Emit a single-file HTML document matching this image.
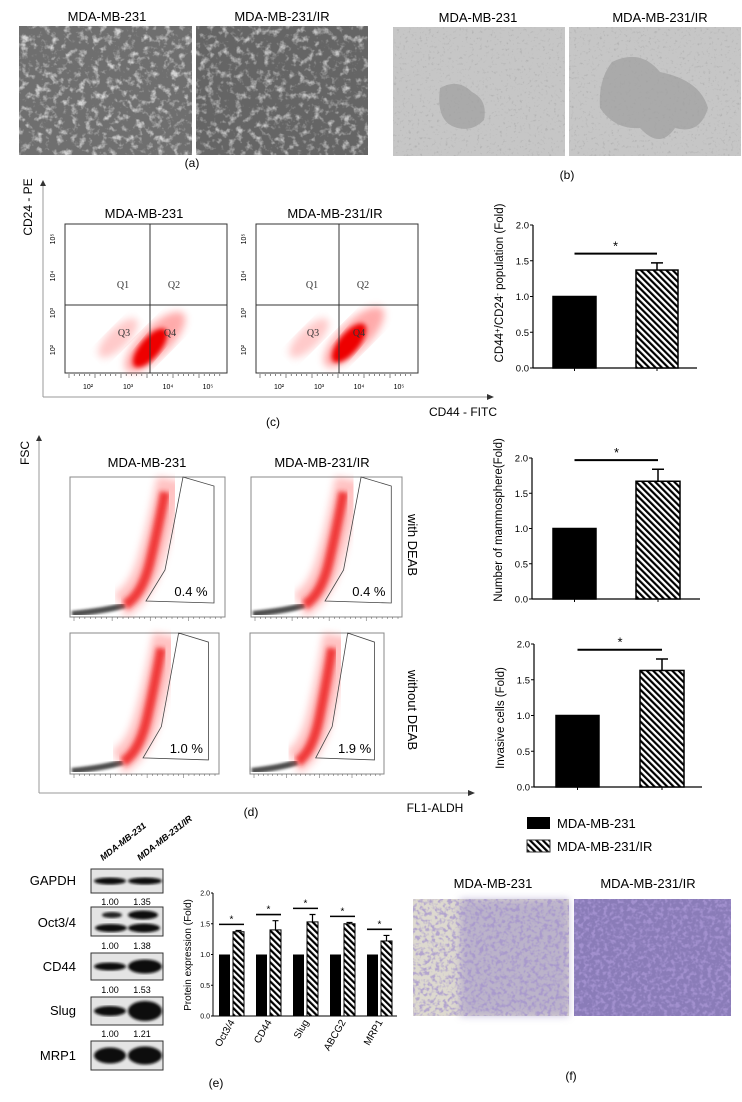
<!DOCTYPE html>
<html><head><meta charset="utf-8"><style>
html,body{margin:0;padding:0;background:#fff;}
svg{display:block;font-family:"Liberation Sans",sans-serif;}
</style></head><body>
<svg id="fig" width="742" height="1102" viewBox="0 0 742 1102" xmlns="http://www.w3.org/2000/svg">
<defs>
<pattern id="hatch" width="4.5" height="4.5" patternUnits="userSpaceOnUse" patternTransform="rotate(-45)"><rect width="4.5" height="4.5" fill="#fff"/><rect width="2.2" height="4.5" fill="#000"/></pattern>
<filter id="texA" x="0" y="0" width="1" height="1"><feTurbulence type="fractalNoise" baseFrequency="0.14" numOctaves="3" seed="3"/><feColorMatrix type="matrix" values="0 0 0 0 0.85  0 0 0 0 0.85  0 0 0 0 0.85  0 0 0 -3 1.5"/></filter>
<filter id="texB" x="0" y="0" width="1" height="1"><feTurbulence type="fractalNoise" baseFrequency="0.35" numOctaves="2" seed="7"/><feColorMatrix type="matrix" values="0 0 0 0 0.35  0 0 0 0 0.35  0 0 0 0 0.35  0 0 0 -4 1.6"/></filter>
<filter id="texF" x="0" y="0" width="1" height="1"><feTurbulence type="fractalNoise" baseFrequency="0.25" numOctaves="2" seed="11"/><feColorMatrix type="matrix" values="0 0 0 0 0.36  0 0 0 0 0.28  0 0 0 0 0.62  0 0 0 -4 2.2"/></filter>
<filter id="blur2"><feGaussianBlur stdDeviation="2.5"/></filter>
<filter id="blur4"><feGaussianBlur stdDeviation="4"/></filter>
<filter id="blurB"><feGaussianBlur stdDeviation="1.2"/></filter>
<clipPath id="clipB1"><rect x="393" y="27" width="172" height="129"/></clipPath>
</defs>

<!-- Panel a -->
<g font-size="13">
<text x="107" y="21" text-anchor="middle">MDA-MB-231</text>
<text x="282" y="21" text-anchor="middle">MDA-MB-231/IR</text>
<rect x="19" y="26" width="173" height="129" fill="#6f6f6f"/>
<rect x="19" y="26" width="173" height="129" filter="url(#texA)" opacity="0.8"/>
<rect x="196" y="26" width="172" height="129" fill="#656565"/>
<rect x="196" y="26" width="172" height="129" filter="url(#texA)" opacity="0.7"/>
<text x="192" y="167" text-anchor="middle" font-size="12">(a)</text>
</g>
<!-- Panel b -->
<g font-size="13">
<text x="478" y="22" text-anchor="middle">MDA-MB-231</text>
<text x="660" y="22" text-anchor="middle">MDA-MB-231/IR</text>
<rect x="393" y="27" width="172" height="129" fill="#c6c6c6"/>
<path d="M440,88 Q458,78 472,92 Q488,100 484,120 Q470,134 452,126 Q436,118 440,88Z" fill="#aaa"/>
<rect x="569" y="27" width="172" height="129" fill="#c6c6c6"/>
<path d="M612,62 Q640,48 660,72 Q700,80 708,108 Q700,135 675,128 Q660,150 640,128 Q615,130 600,108 Q598,80 612,62Z" fill="#aaa"/>
<rect x="393" y="27" width="172" height="129" filter="url(#texB)" opacity="0.5"/>
<rect x="569" y="27" width="172" height="129" filter="url(#texB)" opacity="0.5"/>
<text x="567" y="179" text-anchor="middle" font-size="12">(b)</text>
</g>

<!-- Panel c flow -->
<g font-size="12">
<line x1="43" y1="182" x2="43" y2="397" stroke="#999"/>
<line x1="43" y1="397" x2="491" y2="397" stroke="#999"/>
<path d="M40,186 L43,180 L46,186Z M487,394 L494,397 L487,400Z" fill="#333"/>
<text transform="translate(32,207) rotate(-90)" text-anchor="middle" font-size="12">CD24 - PE</text>
<text x="463" y="416" text-anchor="middle">CD44 - FITC</text>
<text x="273" y="426" text-anchor="middle">(c)</text>
<text x="144" y="218" text-anchor="middle" font-size="13">MDA-MB-231</text>
<text x="335" y="218" text-anchor="middle" font-size="13">MDA-MB-231/IR</text>
<g id="flowc"></g>
</g>

<!-- Panel d flow -->
<g font-size="12">
<line x1="39" y1="437" x2="39" y2="793" stroke="#999"/>
<line x1="39" y1="793" x2="472" y2="793" stroke="#999"/>
<path d="M36,441 L39,435 L42,441Z M468,790 L475,793 L468,796Z" fill="#333"/>
<text transform="translate(29,453) rotate(-90)" text-anchor="middle">FSC</text>
<text x="435" y="812" text-anchor="middle">FL1-ALDH</text>
<text x="251" y="816" text-anchor="middle">(d)</text>
<text x="147" y="467" text-anchor="middle" font-size="13">MDA-MB-231</text>
<text x="322" y="467" text-anchor="middle" font-size="13">MDA-MB-231/IR</text>
<text transform="translate(408,545) rotate(90)" text-anchor="middle" font-size="13">with DEAB</text>
<text transform="translate(408,710) rotate(90)" text-anchor="middle" font-size="13">without DEAB</text>
<g id="flowd"></g>
</g>

<g id="charts"></g>

<!-- Legend -->
<g font-size="13">
<rect x="527" y="817" width="23" height="12" fill="#000"/>
<text x="557" y="828">MDA-MB-231</text>
<rect x="527" y="840" width="23" height="12" fill="url(#hatch)" stroke="#333"/>
<text x="557" y="851">MDA-MB-231/IR</text>
</g>

<!-- Panel e blots -->
<g font-size="13">
<text transform="translate(103,861) rotate(-38)" font-size="9" font-weight="bold" font-style="italic">MDA-MB-231</text>
<text transform="translate(140,861) rotate(-38)" font-size="9" font-weight="bold" font-style="italic">MDA-MB-231/IR</text>
<g id="blots"></g>
<text x="216" y="1087" text-anchor="middle" font-size="12">(e)</text>
</g>

<!-- Panel f -->
<g font-size="13">
<text x="493" y="888" text-anchor="middle">MDA-MB-231</text>
<text x="648" y="888" text-anchor="middle">MDA-MB-231/IR</text>
<rect x="413" y="899" width="156" height="117" fill="#ddd9cf"/>
<rect x="460" y="899" width="109" height="117" fill="#a69ac8" opacity="0.6" filter="url(#blur4)"/>
<rect x="413" y="899" width="156" height="117" filter="url(#texF)" opacity="0.7"/>
<rect x="574" y="899" width="157" height="117" fill="#8a7cb8"/>
<rect x="574" y="899" width="157" height="117" filter="url(#texF)"/>
<text x="571" y="1080" text-anchor="middle" font-size="12">(f)</text>
</g>
</svg>
<script>
// ---- chart data ----
const groupsC = ["MDA-MB-231", "MDA-MB-231/IR"];
const valuesC = [1.0, 1.37];
const errorsC = [0, 1.47];
const valuesD = [1.0, 1.67];
const errorsD = [0, 1.84];
const valuesInv = [1.0, 1.63];
const errorsInv = [0, 1.79];
const ticksY = [0, 0.5, 1.0, 1.5, 2.0];
const tickLabelsY = ["0.0", "0.5", "1.0", "1.5", "2.0"];
const proteins = ["Oct3/4", "CD44", "Slug", "ABCG2", "MRP1"];
const protCtrl = [1.0, 1.0, 1.0, 1.0, 1.0];
const protIR = [1.37, 1.40, 1.53, 1.50, 1.22];
const protErr = [1.39, 1.55, 1.65, 1.52, 1.31];
const blotNames = ["GAPDH", "Oct3/4", "CD44", "Slug", "MRP1"];
const blotCtrl = ["1.00", "1.00", "1.00", "1.00"];
const blotIR = ["1.35", "1.38", "1.53", "1.21"];

const NS = "http://www.w3.org/2000/svg";
function mk(tag, attrs, parent) {
  const e = document.createElementNS(NS, tag);
  for (const k in attrs) e.setAttribute(k, attrs[k]);
  parent.appendChild(e);
  return e;
}
const charts = document.getElementById('charts');

function twoBarChart(name, ax, y0, y2, xEnd, bars, vals, errs, label, labelCy) {
  const g = mk('g', {}, charts);
  
  
  const yS = v => y0 - (y0 - y2) * v / 2;
  const yl = mk('line', {x1: ax, y1: yS(2), x2: ax, y2: y0, stroke: '#000', 'stroke-width': 1.2}, g);
  
  
  const xl = mk('line', {x1: ax, y1: y0, x2: xEnd, y2: y0, stroke: '#000', 'stroke-width': 1.2}, g);
  
  
  ticksY.forEach((t, i) => {
    mk('line', {x1: ax - 3, y1: yS(t), x2: ax, y2: yS(t), stroke: '#000'}, g);
    const tx = mk('text', {x: ax - 4, y: yS(t) + 3.5, 'text-anchor': 'end', 'font-size': 9.5}, g);
    tx.textContent = tickLabelsY[i];
    
    
  });
  vals.forEach((v, i) => {
    const [x1, x2] = bars[i];
    const r = mk('rect', {x: x1, y: yS(v), width: x2 - x1, height: y0 - yS(v), fill: i ? 'url(#hatch)' : '#000', stroke: '#000', 'stroke-width': 1.5}, g);
    
    
    mk('line', {x1: (x1 + x2) / 2, y1: y0, x2: (x1 + x2) / 2, y2: y0 + 3, stroke: '#000'}, g);
    if (errs[i] > v) {
      const cx = (x1 + x2) / 2;
      const eb = mk('path', {d: `M${cx},${yS(v)}V${yS(errs[i])}M${cx - 6},${yS(errs[i])}H${cx + 6}`, stroke: '#000', 'stroke-width': 1.5, fill: 'none'}, g);
      
      
    }
  });
  const top = Math.max(...errs, ...vals);
  const sy = yS(top + 0.13);
  const sl = mk('line', {x1: (bars[0][0] + bars[0][1]) / 2, y1: sy, x2: (bars[1][0] + bars[1][1]) / 2, y2: sy, stroke: '#000', 'stroke-width': 2}, g);
  
  
  const st = mk('text', {x: ((bars[0][0] + bars[1][1]) / 2), y: sy - 3, 'text-anchor': 'middle', 'font-size': 13}, g);
  st.textContent = '*';
  
  
  const lb = mk('text', {transform: `translate(${ax - 30},${labelCy}) rotate(-90)`, 'text-anchor': 'middle', 'font-size': 11.5}, g);
  lb.innerHTML = label;
  
  
}
twoBarChart('chart-cd44-cd24', 533, 368, 225, 697, [[553, 596], [636, 678]], valuesC, errorsC,
  'CD44<tspan dy="-3" font-size="8">+</tspan><tspan dy="3">/CD24</tspan><tspan dy="-3" font-size="8">-</tspan><tspan dy="3"> population (Fold)</tspan>', 283);
twoBarChart('chart-mammosphere', 532, 599, 458, 700, [[553, 596], [636, 680]], valuesD, errorsD, 'Number of mammosphere(Fold)', 520);
twoBarChart('chart-invasive', 534, 787, 644, 702, [[556, 599], [640, 684]], valuesInv, errorsInv, 'Invasive cells (Fold)', 718);

// protein chart
(function () {
  const g = mk('g', {}, charts);
  
  
  const ax = 213, y0 = 1016, y2 = 893, xEnd = 397;
  const yS = v => y0 - (y0 - y2) * v / 2;
  const gx = i => 219 + i * 37;
  const yl = mk('line', {x1: ax, y1: y2, x2: ax, y2: y0, stroke: '#000'}, g);
  
  
  const xl = mk('line', {x1: ax, y1: y0, x2: xEnd, y2: y0, stroke: '#000'}, g);
  
  
  ticksY.forEach((t, i) => {
    mk('line', {x1: ax - 2, y1: yS(t), x2: ax, y2: yS(t), stroke: '#000'}, g);
    const tx = mk('text', {x: ax - 3, y: yS(t) + 2.5, 'text-anchor': 'end', 'font-size': 7}, g);
    tx.textContent = tickLabelsY[i];
    
    
  });
  proteins.forEach((p, i) => {
    const x = gx(i);
    const b1 = mk('rect', {x: x, y: yS(protCtrl[i]), width: 11, height: y0 - yS(protCtrl[i]), fill: '#000'}, g);
    
    
    const b2 = mk('rect', {x: x + 14, y: yS(protIR[i]), width: 11, height: y0 - yS(protIR[i]), fill: 'url(#hatch)', stroke: '#000', 'stroke-width': 1}, g);
    
    
    const cx = x + 19.5;
    mk('path', {d: `M${cx},${yS(protIR[i])}V${yS(protErr[i])}M${cx - 3},${yS(protErr[i])}H${cx + 3}`, stroke: '#000', 'stroke-width': 1.2, fill: 'none'}, g);
    const sy = yS(protErr[i] + 0.1);
    mk('line', {x1: x, y1: sy, x2: x + 25, y2: sy, stroke: '#000', 'stroke-width': 1.6}, g);
    const st = mk('text', {x: x + 12.5, y: sy - 2, 'text-anchor': 'middle', 'font-size': 10}, g);
    st.textContent = '*';
    const lb = mk('text', {transform: `translate(${x + 16},${y0 + 6}) rotate(-60)`, 'text-anchor': 'end', 'font-size': 10}, g);
    lb.textContent = p;
    
    
  });
  const t = mk('text', {transform: `translate(191,955) rotate(-90)`, 'text-anchor': 'middle', 'font-size': 10}, g);
  t.textContent = 'Protein expression (Fold)';
  
  
})();

// blots
(function () {
  const g = document.getElementById('blots');
  const boxes = [[869, 893], [907, 936], [953, 980], [997, 1025], [1041, 1070]];
  const labY = [885, 927, 971, 1015, 1060];
  const numY = [905, 949, 993, 1037];
  const bandH = [[3.5, 3.5], [4, 5], [4, 7], [5, 10], [8, 9]];
  blotNames.forEach((n, i) => {
    const [a, b] = boxes[i];
    const r = mk('rect', {x: 91, y: a, width: 72, height: b - a, fill: '#e4e4e4', stroke: '#333', 'stroke-width': 1}, g);
    
    
    const mid = (a + b) / 2;
    if (n === 'Oct3/4') {
      mk('ellipse', {cx: 112, cy: a + 8, rx: 10, ry: 3, fill: '#222', filter: 'url(#blurB)'}, g);
      mk('ellipse', {cx: 143, cy: a + 8, rx: 15, ry: 4.5, fill: '#111', filter: 'url(#blurB)'}, g);
      mk('ellipse', {cx: 111, cy: b - 8, rx: 16, ry: 4, fill: '#111', filter: 'url(#blurB)'}, g);
      mk('ellipse', {cx: 144, cy: b - 8, rx: 16, ry: 4.5, fill: '#111', filter: 'url(#blurB)'}, g);
    } else {
      mk('ellipse', {cx: 110, cy: mid, rx: 16, ry: bandH[i][0], fill: '#111', filter: 'url(#blurB)'}, g);
      mk('ellipse', {cx: 145, cy: mid, rx: 17, ry: bandH[i][1], fill: '#111', filter: 'url(#blurB)'}, g);
    }
    const t = mk('text', {x: 76, y: labY[i], 'text-anchor': 'end', 'font-size': 13}, g);
    t.textContent = n;
    
    
  });
  blotCtrl.forEach((v, i) => {
    const t1 = mk('text', {x: 110, y: numY[i], 'text-anchor': 'middle', 'font-size': 9}, g);
    t1.textContent = v;
    
    
    const t2 = mk('text', {x: 142, y: numY[i], 'text-anchor': 'middle', 'font-size': 9}, g);
    t2.textContent = blotIR[i];
    
    
  });
})();

// flow plots c
(function () {
  const g = document.getElementById('flowc');
  [[65, 150, 'left'], [256, 339, 'right']].forEach(([x0, qx, side], k) => {
    const w = 162, y0 = 224, y1 = 373, qy = 305;
    const r = mk('rect', {x: x0, y: y0, width: w, height: y1 - y0, fill: '#fff', stroke: '#333'}, g);
    
    
    const off = x0 - 65;
    mk('ellipse', {cx: 118 + off, cy: 338, rx: 26, ry: 10, fill: '#f88', opacity: 0.45, transform: `rotate(-45 ${118 + off} 338)`, filter: 'url(#blur4)'}, g);
    mk('ellipse', {cx: 155 + off + k * 8, cy: 342 - k * 5, rx: 40, ry: 15, fill: '#f44', opacity: 0.45, transform: `rotate(-45 ${155 + off + k * 8} ${342 - k * 5})`, filter: 'url(#blur4)'}, g);
    mk('ellipse', {cx: 150 + off + k * 8, cy: 348 - k * 5, rx: 24, ry: 10, fill: '#e00', transform: `rotate(-50 ${150 + off + k * 8} ${348 - k * 5})`, filter: 'url(#blur2)'}, g);
    mk('line', {x1: qx, y1: y0, x2: qx, y2: y1, stroke: '#333'}, g);
    mk('line', {x1: x0, y1: qy, x2: x0 + w, y2: qy, stroke: '#333'}, g);
    [['Q1', qx - 27, 288], ['Q2', qx + 24, 288], ['Q3', qx - 26, 336], ['Q4', qx + 20, 336]].forEach(([t, x, y]) => {
      const e = mk('text', {x: x, y: y, 'text-anchor': 'middle', 'font-size': 10, 'font-family': 'Liberation Serif, serif', fill: '#333'}, g);
      e.textContent = t;
    });
    ['10²', '10³', '10⁴', '10⁵'].forEach((t, i) => {
      const e = mk('text', {x: x0 + 23 + i * 40, y: 389, 'text-anchor': 'middle', 'font-size': 7}, g);
      e.textContent = t;
      const e2 = mk('text', {transform: `translate(${x0 - 10},${350 - i * 37}) rotate(-90)`, 'text-anchor': 'middle', 'font-size': 7}, g);
      e2.textContent = t;
    });
    for (let i = 0; i < 30; i++) mk('line', {x1: x0 + 4 + i * 5.2, y1: y1 + 1, x2: x0 + 4 + i * 5.2, y2: y1 + (i % 5 ? 3 : 5), stroke: '#333', 'stroke-width': 0.6}, g);
  });
})();

// flow plots d
(function () {
  const g = document.getElementById('flowd');
  const plots = [[70, 477, 155, 140, '0.4 %', 'top-left'], [251, 477, 151, 140, '0.4 %', 'top-right'],
                 [70, 633, 149, 141, '1.0 %', 'bottom-left'], [250, 633, 134, 141, '1.9 %', 'bottom-right']];
  plots.forEach(([x0, y0, w, h, pct, name]) => {
    const r = mk('rect', {x: x0, y: y0, width: w, height: h, fill: '#fff', stroke: '#888'}, g);
    
    
    const X = v => x0 + v * w / 155, Y = v => y0 + v * h / 140;
    mk('path', {d: `M${X(2)},${Y(137)} Q${X(40)},${Y(133)} ${X(55)},${Y(128)}`, stroke: '#222', 'stroke-width': 6, fill: 'none', filter: 'url(#blurB)', opacity: 0.8}, g);
    mk('path', {d: `M${X(50)},${Y(128)} Q${X(70)},${Y(118)} ${X(80)},${Y(85)} T${X(100)},${Y(2)}`, stroke: '#f66', 'stroke-width': 26, fill: 'none', filter: 'url(#blur4)', opacity: 0.4}, g);
    mk('path', {d: `M${X(55)},${Y(128)} Q${X(72)},${Y(118)} ${X(80)},${Y(85)} T${X(95)},${Y(15)}`, stroke: '#e22', 'stroke-width': 10, fill: 'none', filter: 'url(#blur2)', opacity: 0.85}, g);
    mk('path', {d: `M${X(113)},${Y(0)} L${X(144)},${Y(9)} L${X(144)},${Y(126)} L${X(76)},${Y(124)} L${X(95)},${Y(93)} Z`, stroke: '#444', 'stroke-width': 0.8, fill: 'none'}, g);
    const t = mk('text', {x: X(121), y: Y(119), 'text-anchor': 'middle', 'font-size': 13}, g);
    t.textContent = pct;
    
    
    for (let i = 0; i < 28; i++) mk('line', {x1: x0 + 4 + i * (w - 8) / 27, y1: y0 + h, x2: x0 + 4 + i * (w - 8) / 27, y2: y0 + h + (i % 7 ? 2 : 4), stroke: '#555', 'stroke-width': 0.5}, g);
  });
})();
</script>
</body></html>
